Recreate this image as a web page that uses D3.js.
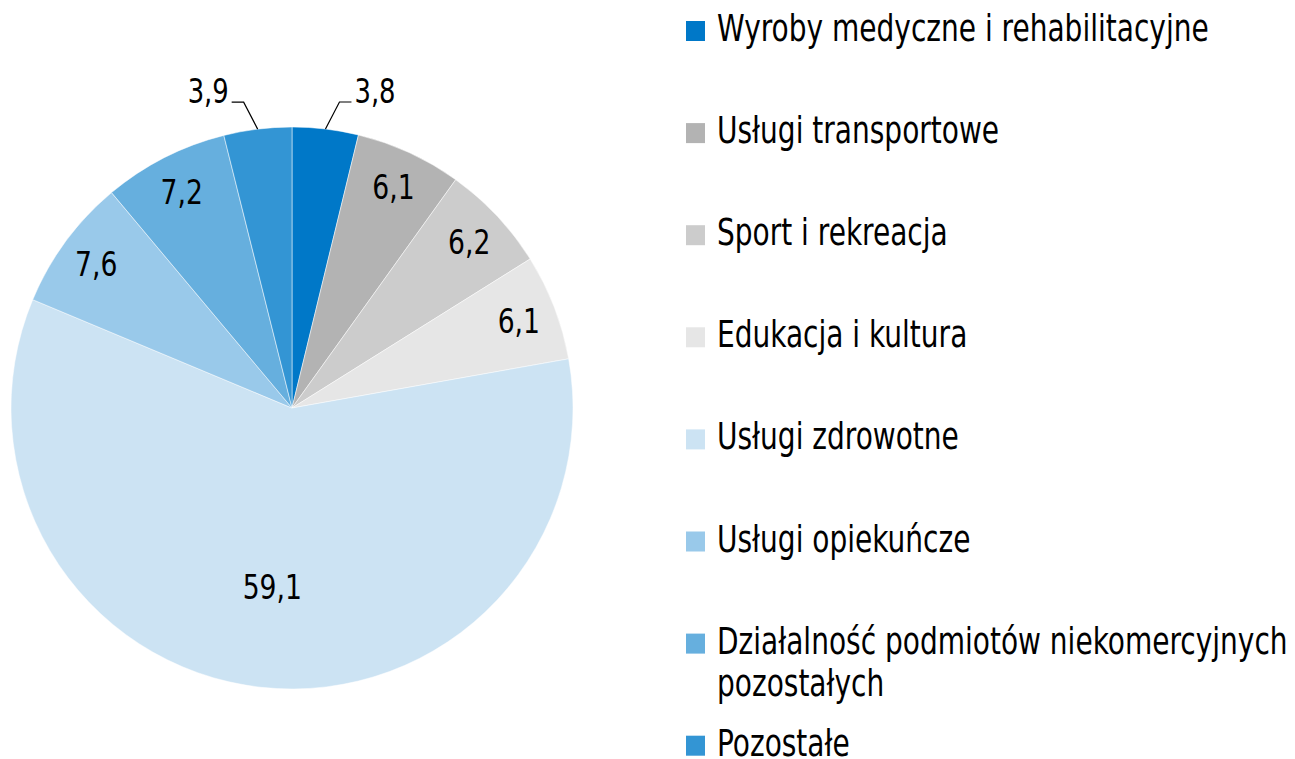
<!DOCTYPE html>
<html><head><meta charset="utf-8">
<script src="https://cdn.jsdelivr.net/npm/d3@7"></script>
<style>
body{margin:0;background:#fff;}
text{font-family:"DejaVu Sans Condensed","DejaVu Sans",sans-serif;fill:#000;}
</style></head>
<body>
<svg id="c" width="1295" height="759"></svg>
<script>
const categories = ["Wyroby medyczne i rehabilitacyjne","Usługi transportowe","Sport i rekreacja","Edukacja i kultura","Usługi zdrowotne","Usługi opiekuńcze","Działalność podmiotów niekomercyjnych\npozostałych","Pozostałe"];
const values = [3.8, 6.1, 6.2, 6.1, 59.1, 7.6, 7.2, 3.9];
const labels = ["3,8","6,1","6,2","6,1","59,1","7,6","7,2","3,9"];
const colors = ["#0078c8","#b3b3b3","#cccccc","#e6e6e6","#cce3f3","#99c9ea","#66afde","#3395d4"];

const SX = 0.82;
const svg = d3.select("#c");
const cx = 292, cy = 408, R = 281;
const g = svg.append("g").attr("transform", `translate(${cx},${cy})`);
const pie = d3.pie().sort(null).value(d => d)(values);
const arc = d3.arc().innerRadius(0).outerRadius(R);
g.selectAll("path").data(pie).join("path")
  .attr("d", arc).attr("fill", (d,i) => colors[i])
  .attr("stroke", "#fff").attr("stroke-width", 0.5);

function label(parent, x, y, anchor, size, txt) {
  return parent.append("text").attr("transform", `translate(${x},${y}) scale(0.87,1)`)
    .attr("dy","0.36em").attr("text-anchor", anchor).style("font-size", size+"px").text(txt);
}

pie.forEach((d,i) => {
  const a = (d.startAngle + d.endAngle)/2;
  if (values[i] < 5) {
    const ex = Math.sin(a)*R, ey = -Math.cos(a)*R;
    const side = Math.sin(a) >= 0 ? 1 : -1;
    const kx = ex + side*14, ky = ey - 27;
    const hx = kx + side*12;
    g.append("polyline").attr("points", `${ex},${ey} ${kx},${ky} ${hx},${ky}`)
      .attr("fill","none").attr("stroke","#000").attr("stroke-width",1.2);
    label(g, hx + side*3, ky - 11, side > 0 ? "start" : "end", 33, labels[i]);
  } else {
    const r = values[i] > 50 ? R*0.64 : R*0.865;
    label(g, Math.sin(a)*r, -Math.cos(a)*r, "middle", 34, labels[i]);
  }
});

const lg = svg.append("g");
categories.forEach((c,i) => {
  const by = 41 + i*102.1;
  lg.append("rect").attr("x",686).attr("y",by-20).attr("width",19).attr("height",20).attr("fill",colors[i]);
  c.split("\n").forEach((s,j) => {
    lg.append("text").attr("transform", `translate(717,${by + j*42.5}) scale(${SX},1)`)
      .style("font-size","38px").text(s);
  });
});
</script>
</body></html>
